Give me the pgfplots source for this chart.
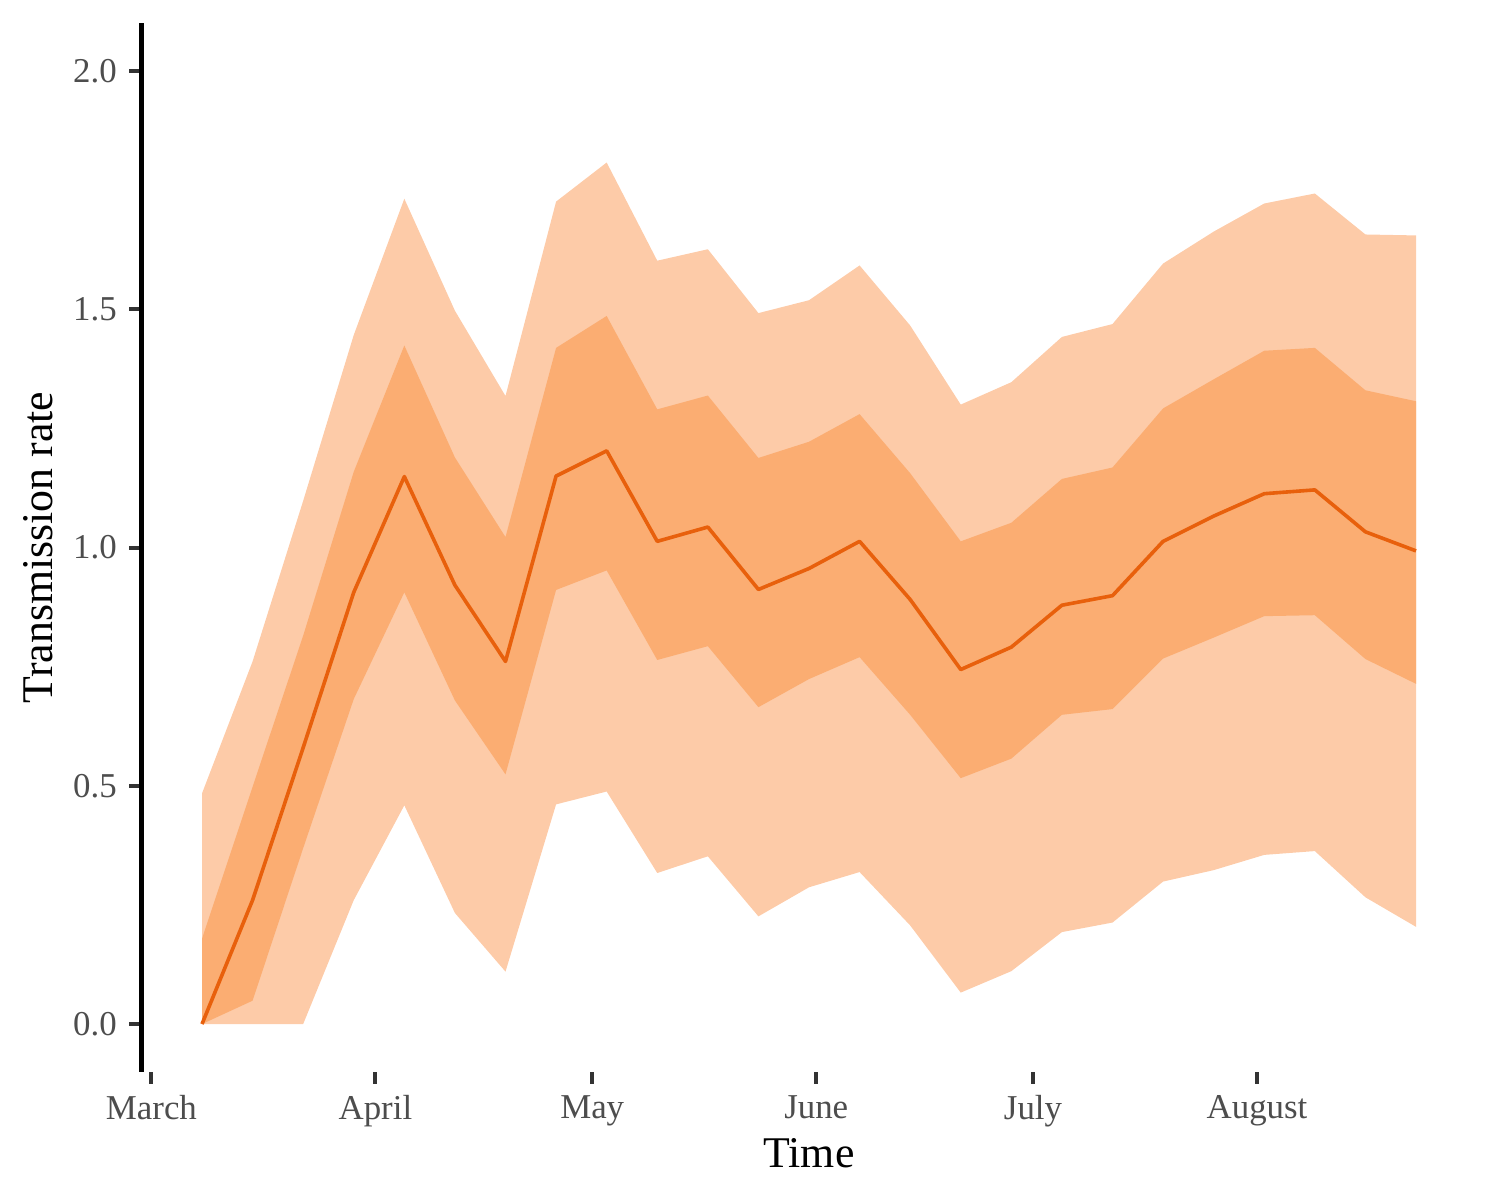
\documentclass[border=0pt]{standalone}
\usepackage{fontspec}
\setmainfont{Liberation Serif}
\usepackage{pgfplots}
\usepackage{pgfplotstable}
\pgfplotsset{compat=1.18}
\definecolor{lightband}{HTML}{FDCBA8}
\definecolor{innerband}{HTML}{FBAD72}
\definecolor{medline}{HTML}{E8600C}
\definecolor{ticklab}{HTML}{4D4D4D}
\definecolor{tickcol}{HTML}{333333}

% outer (95%) band: upper edge forward, lower edge backward
\pgfplotstableread{
d y
7 0.484
14 0.761
21 1.098
28 1.446
35 1.732
42 1.497
49 1.318
56 1.726
63 1.808
70 1.602
77 1.626
84 1.492
91 1.519
98 1.592
105 1.466
112 1.300
119 1.347
126 1.442
133 1.469
140 1.596
147 1.663
154 1.722
161 1.743
168 1.657
175 1.655
175 0.204
168 0.266
161 0.363
154 0.355
147 0.323
140 0.299
133 0.213
126 0.193
119 0.111
112 0.066
105 0.207
98 0.319
91 0.287
84 0.226
77 0.352
70 0.317
63 0.488
56 0.461
49 0.110
42 0.233
35 0.459
28 0.260
21 0
14 0
7 0
}\bandouter

% inner (50%) band: upper edge forward, lower edge backward
\pgfplotstableread{
d y
7 0.179
14 0.498
21 0.815
28 1.159
35 1.424
42 1.189
49 1.022
56 1.419
63 1.486
70 1.290
77 1.319
84 1.188
91 1.222
98 1.280
105 1.156
112 1.013
119 1.052
126 1.144
133 1.168
140 1.292
147 1.353
154 1.413
161 1.419
168 1.330
175 1.307
175 0.714
168 0.766
161 0.858
154 0.856
147 0.811
140 0.767
133 0.661
126 0.649
119 0.557
112 0.516
105 0.649
98 0.770
91 0.724
84 0.665
77 0.793
70 0.764
63 0.952
56 0.911
49 0.524
42 0.679
35 0.906
28 0.682
21 0.369
14 0.049
7 0
}\bandinner

\pgfplotstableread{
d y
7 0
14 0.260
21 0.580
28 0.906
35 1.149
42 0.921
49 0.761
56 1.150
63 1.203
70 1.013
77 1.043
84 0.912
91 0.956
98 1.013
105 0.891
112 0.744
119 0.791
126 0.879
133 0.899
140 1.013
147 1.066
154 1.113
161 1.121
168 1.033
175 0.993
}\median

\begin{document}
\begin{tikzpicture}
\useasboundingbox (0,0) rectangle (1500bp,1200bp);
\begin{axis}[
  at={(141.3bp,128.3bp)}, anchor=south west,
  scale only axis,
  width=1335.4bp, height=1048.3bp,
  xmin=-1.4, xmax=183.4,
  ymin=-0.1, ymax=2.1,
  axis lines*=left,
  x axis line style={draw=none},
  y axis line style={draw=black, line width=4.5bp},
  tick align=outside,
  major tick length=12bp,
  tick style={draw=tickcol, line width=4bp},
  xtick={0,31,61,92,122,153},
  xticklabels={March,April,May,June,July,August},
  ytick={0,0.5,1,1.5,2},
  /pgf/number format/assume math mode=true,
  ticklabel style={font=\fontsize{35}{42}\selectfont, text=ticklab},
  xticklabel style={yshift=-8bp},
  yticklabel style={xshift=-9bp, /pgf/number format/.cd, fixed, fixed zerofill, precision=1},
  xlabel={Time},
  ylabel={Transmission rate},
  label style={font=\fontsize{44}{52}\selectfont, text=black},
  xlabel style={at={(axis description cs:0.5,-0.09186)}, anchor=base},
  ylabel style={at={(axis description cs:-0.06665,0.5)}, anchor=base},
]
\addplot[fill=lightband, draw=none] table[x=d, y=y] {\bandouter} -- cycle;
\addplot[fill=innerband, draw=none] table[x=d, y=y] {\bandinner} -- cycle;
\addplot[medline, line width=3.6bp, line join=round] table[x=d, y=y] {\median};
\end{axis}
\end{tikzpicture}
\end{document}
